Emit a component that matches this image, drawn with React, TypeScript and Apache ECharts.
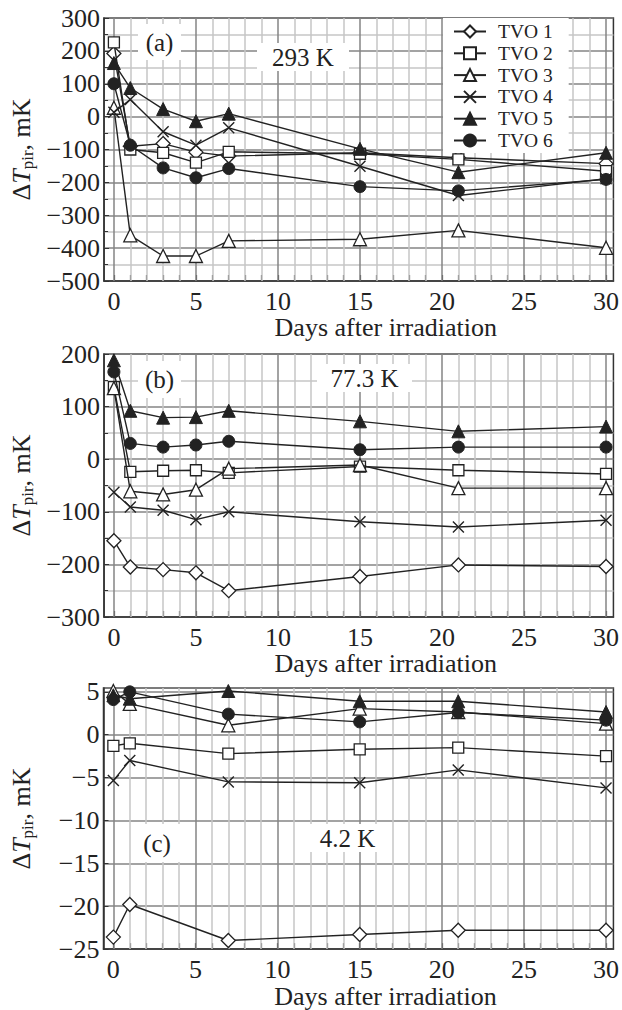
import React, { useEffect, useRef } from "react";
import * as echarts from "echarts";

// ---- data ----
const seriesNames = ["TVO 1", "TVO 2", "TVO 3", "TVO 4", "TVO 5", "TVO 6"];
const daysAB = [0, 1, 3, 5, 7, 15, 21, 30];
const daysC = [0, 1, 7, 15, 21, 30];

// panel (a) 293 K
const a1 = [192, -90, -82, -108, -120, -110, -125, -143];
const a2 = [226, -100, -110, -140, -107, -113, -130, -166];
const a3 = [27, -361, -424, -424, -378, -373, -346, -399];
const a4 = [13, 52, -46, -87, -34, -151, -240, -189];
const a5 = [163, 87, 23, -14, 9, -98, -169, -110];
const a6 = [100, -87, -156, -186, -158, -213, -226, -191];

// panel (b) 77.3 K
const b1 = [-155, -205, -210, -216, -250, -223, -201, -204];
const b2 = [137, -24, -22, -21, -26, -14, -21, -28];
const b3 = [135, -61, -67, -58, -18, -11, -55, -55];
const b4 = [-63, -91, -97, -115, -100, -119, -129, -116];
const b5 = [188, 92, 79, 80, 92, 72, 53, 62];
const b6 = [166, 30, 23, 27, 34, 18, 23, 23];

// panel (c) 4.2 K
const c1 = [-23.6, -19.8, -24.0, -23.3, -22.8, -22.8];
const c2 = [-1.3, -1.0, -2.2, -1.7, -1.5, -2.5];
const c3 = [5.1, 3.6, 1.1, 3.05, 2.65, 1.3];
const c4 = [-5.35, -3.0, -5.5, -5.6, -4.1, -6.2];
const c5 = [4.6, 4.2, 5.1, 3.9, 3.9, 2.65];
const c6 = [4.1, 5.0, 2.4, 1.5, 2.6, 1.7];

const xTickLabels = [0, 5, 10, 15, 20, 25, 30];
const xMinorTicks = Array.from({ length: 31 }, (_, i) => i);
const panelLabels = ["(a)", "(b)", "(c)"];
const tempLabels = ["293 K", "77.3 K", "4.2 K"];

const FONT = '"Liberation Serif", "Times New Roman", serif';
const INK = "#222222";

const CROSS = "path://M0,0L10,10M10,0L0,10";
const symbols = ["diamond", "rect", "triangle", CROSS, "triangle", "circle"];
const symbolSizes = [14, 11, 13, 11, 13, 12];
const fillKind = ["hollow", "hollow", "hollow", "cross", "filled", "filled"];

function itemStyleFor(i: number) {
  const k = fillKind[i];
  if (k === "filled") return { color: INK, borderColor: INK, borderWidth: 1 };
  if (k === "cross") return { color: "rgba(0,0,0,0)", borderColor: INK, borderWidth: 1.4 };
  return { color: "#ffffff", borderColor: INK, borderWidth: 1.3 };
}

const grids = [
  { left: 101, top: 18, width: 515, height: 263 },
  { left: 101, top: 354, width: 515, height: 263 },
  { left: 101, top: 688, width: 515, height: 262 },
];

const yRanges = [
  { min: -500, max: 300, interval: 100, minor: true },
  { min: -300, max: 200, interval: 100, minor: true },
  { min: -25, max: 5.45, interval: 5, minor: false },
];

const panelData = [
  { days: daysAB, vals: [a1, a2, a3, a4, a5, a6] },
  { days: daysAB, vals: [b1, b2, b3, b4, b5, b6] },
  { days: daysC, vals: [c1, c2, c3, c4, c5, c6] },
];

const minusFmt = (v: number) => String(v).replace("-", "\u2212");

function buildOption() {
  const xAxis: any[] = [];
  const yAxis: any[] = [];
  const series: any[] = [];

  grids.forEach((g, k) => {
    xAxis.push({
      type: "value",
      gridIndex: k,
      min: -0.6,
      max: 30.45,
      name: "Days after irradiation",
      nameLocation: "middle",
      nameGap: 26,
      nameTextStyle: { fontFamily: FONT, fontSize: 26, color: INK, padding: [0, 0, 0, 54] },
      axisLine: { show: true, onZero: false, lineStyle: { color: "#333", width: 1.5 } },
      axisTick: {
        show: true,
        inside: true,
        length: 6,
        customValues: xMinorTicks,
        lineStyle: { color: "#333", width: 1.2 },
      },
      axisLabel: {
        customValues: xTickLabels,
        fontFamily: FONT,
        fontSize: 26,
        color: INK,
        margin: 7,
      },
      splitLine: { show: false },
    });
    const yr = yRanges[k];
    yAxis.push({
      type: "value",
      gridIndex: k,
      min: yr.min,
      max: yr.max,
      interval: yr.interval,
      name: "{d|\u0394}{t|T}{s|pir}{d|, mK}",
      nameLocation: "middle",
      nameGap: 68,
      nameTextStyle: {
        fontFamily: FONT,
        fontSize: 26,
        color: INK,
        rich: {
          d: { fontFamily: FONT, fontSize: 26, color: INK },
          t: { fontFamily: FONT, fontSize: 26, fontStyle: "italic", color: INK },
          s: { fontFamily: FONT, fontSize: 17, color: INK, padding: [12, 0, 0, 0] },
        },
      },
      axisLine: { show: true, onZero: false, lineStyle: { color: "#333", width: 1.5 } },
      axisTick: { show: true, inside: true, length: 5, lineStyle: { color: "#333" } },
      minorTick: { show: yr.minor, splitNumber: 2, length: 4, lineStyle: { color: "#333" } },
      axisLabel: {
        fontFamily: FONT,
        fontSize: 26,
        color: INK,
        margin: 4,
        showMaxLabel: k === 2 ? false : true,
        formatter: (v: number) => minusFmt(v),
      },
      splitLine: { show: true, lineStyle: { color: "#858585", width: 1.5 } },
      minorSplitLine: { show: yr.minor, lineStyle: { color: "#c6c6c6", width: 1.5 } },
    });

    const pd = panelData[k];
    const vLines = xMinorTicks.map((x) => ({
      xAxis: x,
      lineStyle: {
        color: x % 5 === 0 ? "#858585" : "#c6c6c6",
        width: 1.5,
        type: "solid",
      },
    }));

    seriesNames.forEach((name, i) => {
      const s: any = {
        type: "line",
        name,
        xAxisIndex: k,
        yAxisIndex: k,
        data: pd.days.map((d, j) => [d, pd.vals[i][j]]),
        symbol: symbols[i],
        symbolSize: symbolSizes[i],
        showAllSymbol: true,
        clip: false,
        lineStyle: { color: INK, width: 1.4 },
        itemStyle: itemStyleFor(i),
        emphasis: { disabled: true },
        z: 3 + i * 0.01,
      };
      if (i === 0) {
        s.markLine = {
          silent: true,
          symbol: "none",
          z: 1,
          label: { show: false },
          emphasis: { disabled: true },
          animation: false,
          data: vLines,
        };
      }
      series.push(s);
    });
  });

  const graphic: any[] = [];
  const boxes = [
    { lab: { x: 138, y: 24, w: 43, h: 36 }, tmp: { x: 257, y: 43, w: 92, h: 28 } },
    { lab: { x: 138, y: 361, w: 43, h: 37 }, tmp: { x: 317, y: 364, w: 95, h: 28 } },
    { lab: { x: 133, y: 824, w: 48, h: 38 }, tmp: { x: 307, y: 824, w: 81, h: 28 } },
  ];
  boxes.forEach((b, k) => {
    graphic.push({
      type: "rect",
      z: 5,
      silent: true,
      shape: { x: b.lab.x, y: b.lab.y, width: b.lab.w, height: b.lab.h },
      style: { fill: "#ffffff" },
    });
    graphic.push({
      type: "text",
      z: 6,
      silent: true,
      x: b.lab.x + b.lab.w / 2,
      y: b.lab.y + b.lab.h / 2,
      style: {
        text: panelLabels[k],
        font: `25px ${FONT}`,
        fill: INK,
        align: "center",
        verticalAlign: "middle",
      },
    });
    graphic.push({
      type: "rect",
      z: 5,
      silent: true,
      shape: { x: b.tmp.x, y: b.tmp.y, width: b.tmp.w, height: b.tmp.h },
      style: { fill: "#ffffff" },
    });
    graphic.push({
      type: "text",
      z: 6,
      silent: true,
      x: b.tmp.x + b.tmp.w / 2,
      y: b.tmp.y + b.tmp.h / 2,
      style: {
        text: tempLabels[k],
        font: `25px ${FONT}`,
        fill: INK,
        align: "center",
        verticalAlign: "middle",
      },
    });
  });

  return {
    animation: false,
    backgroundColor: "#ffffff",
    textStyle: { fontFamily: FONT },
    grid: grids.map((g) => ({
      ...g,
      show: true,
      borderColor: "#333",
      borderWidth: 1.5,
      backgroundColor: "rgba(0,0,0,0)",
      containLabel: false,
    })),
    legend: {
      data: seriesNames,
      left: 443,
      top: 18,
      orient: "vertical",
      backgroundColor: "#ffffff",
      padding: [3, 16, 2, 10],
      itemWidth: 32,
      itemHeight: 15,
      itemGap: 0.8,
      selectedMode: false,
      textStyle: { fontFamily: FONT, fontSize: 19.5, lineHeight: 21, color: INK, padding: [0, 0, 0, 7] },
      z: 4,
    },
    xAxis,
    yAxis,
    series,
    graphic,
  };
}

export default function App() {
  const ref = useRef<HTMLDivElement>(null);
  useEffect(() => {
    if (!ref.current) return;
    const chart = echarts.init(ref.current, undefined, { renderer: "svg" });
    chart.setOption(buildOption() as any);
    return () => chart.dispose();
  }, []);
  return (
    <div
      ref={ref}
      style={{ position: "absolute", left: 0, top: 0, width: 622, height: 1010, background: "#fff" }}
    />
  );
}
